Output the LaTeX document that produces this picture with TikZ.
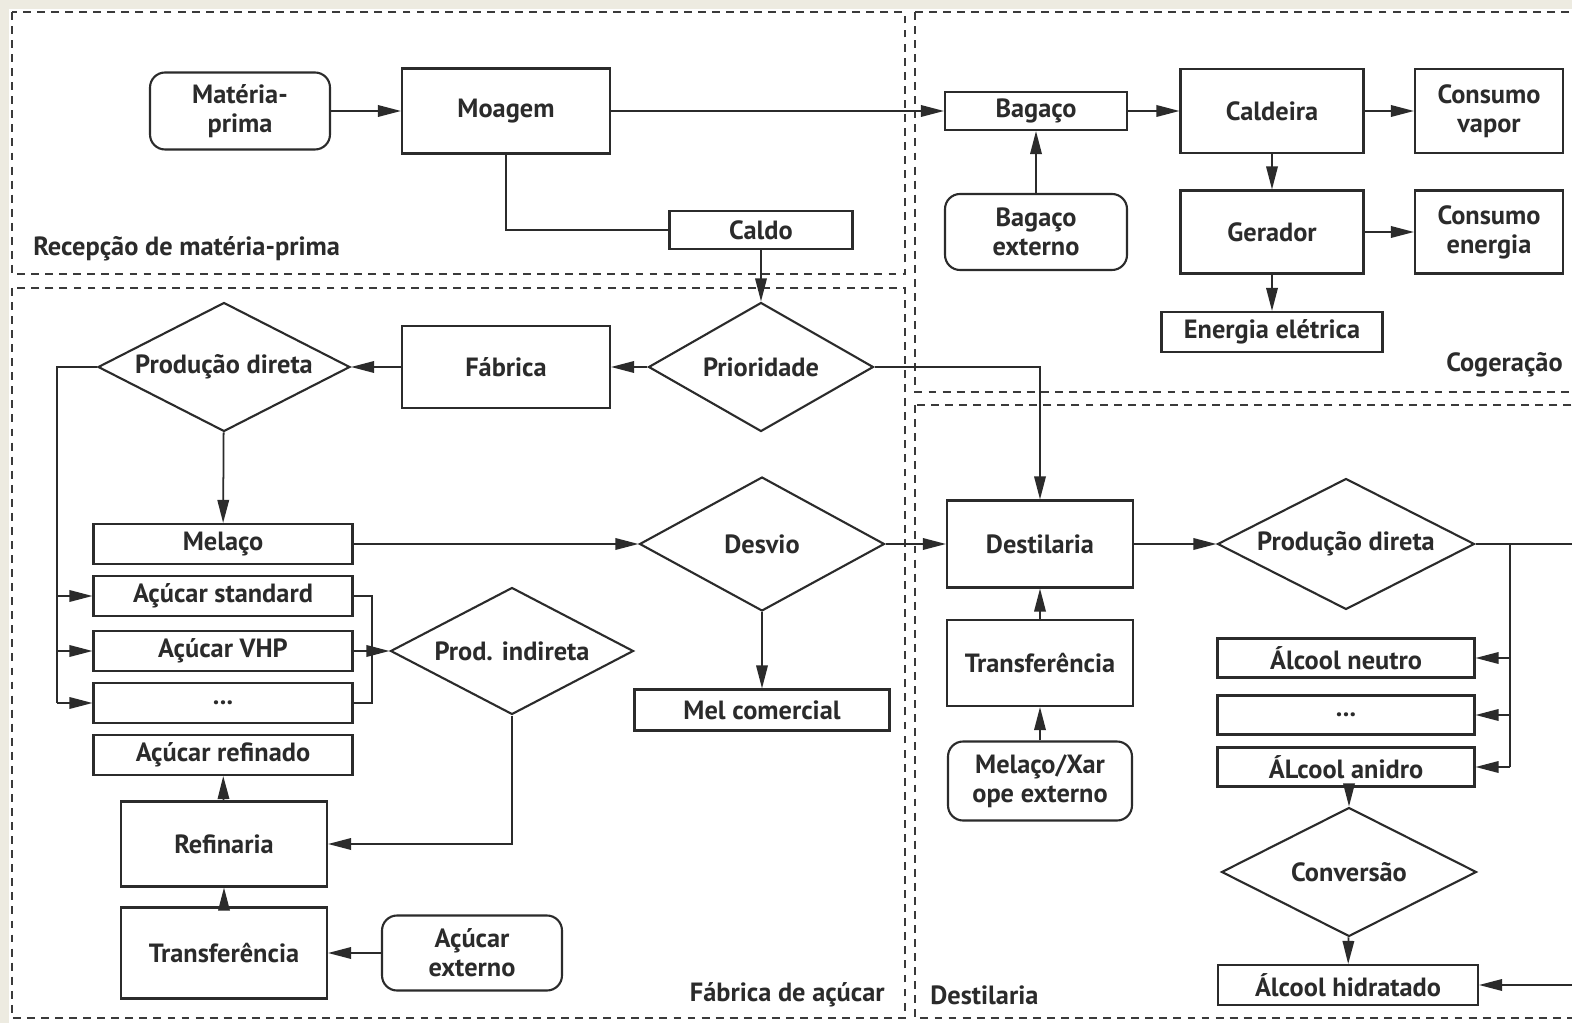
\documentclass[tikz,border=0pt]{standalone}
\usepackage{fontspec}
\setmainfont{PT Sans}
\usepackage{tikz}
\usetikzlibrary{arrows.meta,shapes.geometric,calc}
\definecolor{inkc}{HTML}{2B2B2B}
\definecolor{pagec}{HTML}{EDEBE1}
\definecolor{framec}{HTML}{3A3A3A}
\tikzset{
  >={Triangle[length=4.6mm,width=2.3mm]},
  box/.style={draw=inkc,line width=1.2pt,fill=white,inner sep=1pt,align=center,text=inkc,font=\fontsize{15}{16.5}\selectfont\bfseries},
  rbox/.style={box,rounded corners=3mm},
  dec/.style={box,diamond,aspect=1.9,inner sep=0pt},
  slim/.style={minimum width=5.18cm,minimum height=0.8cm},
  zone/.style={draw=framec,line width=0.9pt,dash pattern=on 4.5pt off 3.5pt},
  zlbl/.style={font=\fontsize{15}{16.5}\selectfont\bfseries,text=inkc,inner sep=0pt},
  arr/.style={->,draw=inkc,line width=1pt},
  ln/.style={draw=inkc,line width=1pt},
}

\begin{document}
\begin{tikzpicture}[x=0.02cm,y=-0.02cm]
  \clip (0,0) rectangle (1572,1023);
  \fill[pagec] (0,0) rectangle (1572,1023);
  \fill[white] (9,9) rectangle (1572,1023);
  % zonas
  \draw[zone] (12,12) rectangle (905,274);
  \draw[zone] (12,288) rectangle (905,1018);
  \draw[zone] (915,12) rectangle (1600,392);
  \draw[zone] (915,405) rectangle (1600,1018);
  \node[zlbl,anchor=west] (zrc) at (33,249) {Recepção de matéria-prima};
  \node[zlbl,anchor=east] (zcg) at (1563,365) {Cogeração};
  \node[zlbl,anchor=east] (zfa) at (885,995) {Fábrica de açúcar};
  \node[zlbl,anchor=west] (zds) at (930,995) {Destilaria};
  % recepcao
  \node[rbox,minimum width=3.6cm,minimum height=1.54cm] (mp) at (240,111) {Matéria-\\prima};
  \node[box,minimum width=4.16cm,minimum height=1.7cm] (mo) at (506,111) {Moagem};
  \node[box,minimum width=3.66cm,minimum height=0.76cm] (cd) at (761,230) {Caldo};
  % cogeracao
  \node[box,minimum width=3.64cm,minimum height=0.76cm] (bg) at (1036,111) {Bagaço};
  \node[rbox,minimum width=3.64cm,minimum height=1.52cm] (be) at (1036,232) {Bagaço\\externo};
  \node[box,minimum width=3.66cm,minimum height=1.68cm] (cl) at (1272,111) {Caldeira};
  \node[box,minimum width=2.96cm,minimum height=1.68cm] (cv1) at (1489,111) {Consumo\\vapor};
  \node[box,minimum width=3.66cm,minimum height=1.66cm] (ge) at (1272,232) {Gerador};
  \node[box,minimum width=2.96cm,minimum height=1.66cm] (ce) at (1489,232) {Consumo\\energia};
  \node[box,minimum width=4.42cm,minimum height=0.8cm] (ee) at (1272,332) {Energia elétrica};
  % fabrica de acucar
  \node[dec,minimum width=4.5cm,minimum height=2.58cm] (pr) at (761,367) {Prioridade};
  \node[box,minimum width=4.16cm,minimum height=1.64cm] (fb) at (506,367) {Fábrica};
  \node[dec,minimum width=5.04cm,minimum height=2.58cm] (pd1) at (224,367) {Produção direta};
  \node[box,slim] (ml) at (223,544) {Melaço};
  \node[box,slim] (as) at (223,596) {Açúcar standard};
  \node[box,slim] (av) at (223,651) {Açúcar VHP};
  \node[box,slim] (ac3) at (223,703) {...};
  \node[box,slim] (ar) at (223,755) {Açúcar refinado};
  \node[dec,minimum width=4.86cm,minimum height=2.54cm] (pi) at (512,651) {Prod. indireta};
  \node[box,minimum width=4.12cm,minimum height=1.7cm] (rf) at (224,844) {Refinaria};
  \node[box,minimum width=4.12cm,minimum height=1.82cm] (tr1) at (224,953) {Transferência};
  \node[rbox,minimum width=3.6cm,minimum height=1.5cm] (ax) at (472,953) {Açúcar\\externo};
  \node[dec,minimum width=4.9cm,minimum height=2.68cm] (dv) at (762,544) {Desvio};
  \node[box,minimum width=5.1cm,minimum height=0.82cm] (mc) at (762,710) {Mel comercial};
  % destilaria
  \node[box,minimum width=3.72cm,minimum height=1.74cm] (ds) at (1040,544) {Destilaria};
  \node[box,minimum width=3.72cm,minimum height=1.72cm] (tr2) at (1040,663) {Transferência};
  \node[rbox,minimum width=3.68cm,minimum height=1.58cm] (mx) at (1040,781) {Melaço/Xar\\ope externo};
  \node[dec,minimum width=5.14cm,minimum height=2.62cm] (pd2) at (1346,544) {Produção direta};
  \node[box,minimum width=5.14cm,minimum height=0.78cm] (nt) at (1346,658) {Álcool neutro};
  \node[box,minimum width=5.14cm,minimum height=0.78cm] (al3) at (1346,715) {...};
  \node[box,minimum width=5.14cm,minimum height=0.78cm] (an) at (1346,767) {ÁLcool anidro};
  \node[dec,minimum width=5.1cm,minimum height=2.58cm] (cv) at (1349,872) {Conversão};
  \node[box,minimum width=5.2cm,minimum height=0.8cm] (ah) at (1348,985) {Álcool hidratado};
  \coordinate (lb) at (57,0);
  \coordinate (rb) at (372,0);
  \coordinate (bx) at (1510,0);
  \coordinate (re) at (1580,544);
  \coordinate (re2) at (1580,985);
  % conexoes
  \draw[arr] (mp) -- (mo);
  \draw[arr] (mo) -- (bg);
  \draw[ln] (mo.south) |- (cd.west);
  \draw[arr] (be) -- (bg);
  \draw[arr] (bg) -- (cl);
  \draw[arr] (cl) -- (cv1);
  \draw[arr] (cl) -- (ge);
  \draw[arr] (ge) -- (ce);
  \draw[arr] (ge) -- (ee);
  \draw[arr] (cd) -- (pr);
  \draw[arr] (pr) -- (fb);
  \draw[arr] (fb) -- (pd1);
  \draw[arr] (pr.east) -| (ds.north);
  \draw[arr] (pd1) -- (ml);
  \draw[ln] (pd1.west) -| (lb |- ac3.west);
  \foreach \n in {as,av,ac3} \draw[arr] (lb |- \n.west) -- (\n.west);
  \draw[ln] (as.east) -| (rb |- ac3.east) -- (ac3.east);
  \draw[arr] (av) -- (pi);
  \draw[arr] (pi.south) |- (rf.east);
  \draw[arr] (rf) -- (ar);
  \draw[arr] (tr1) -- (rf);
  \draw[arr] (ax) -- (tr1);
  \draw[arr] (ml) -- (dv);
  \draw[arr] (dv) -- (mc);
  \draw[arr] (dv) -- (ds);
  \draw[arr] (tr2) -- (ds);
  \draw[arr] (mx) -- (tr2);
  \draw[arr] (ds) -- (pd2);
  \draw[ln] (pd2.east) -- (re);
  \draw[ln] (bx |- pd2.east) -- (bx |- an.east);
  \foreach \n in {nt,al3,an} \draw[arr] (bx |- \n.east) -- (\n.east);
  \draw[arr] (an.south -| cv.north) -- (cv.north);
  \draw[arr] (cv) -- (ah);
  \draw[arr] (re2) -- (ah.east);
\end{tikzpicture}
\end{document}
